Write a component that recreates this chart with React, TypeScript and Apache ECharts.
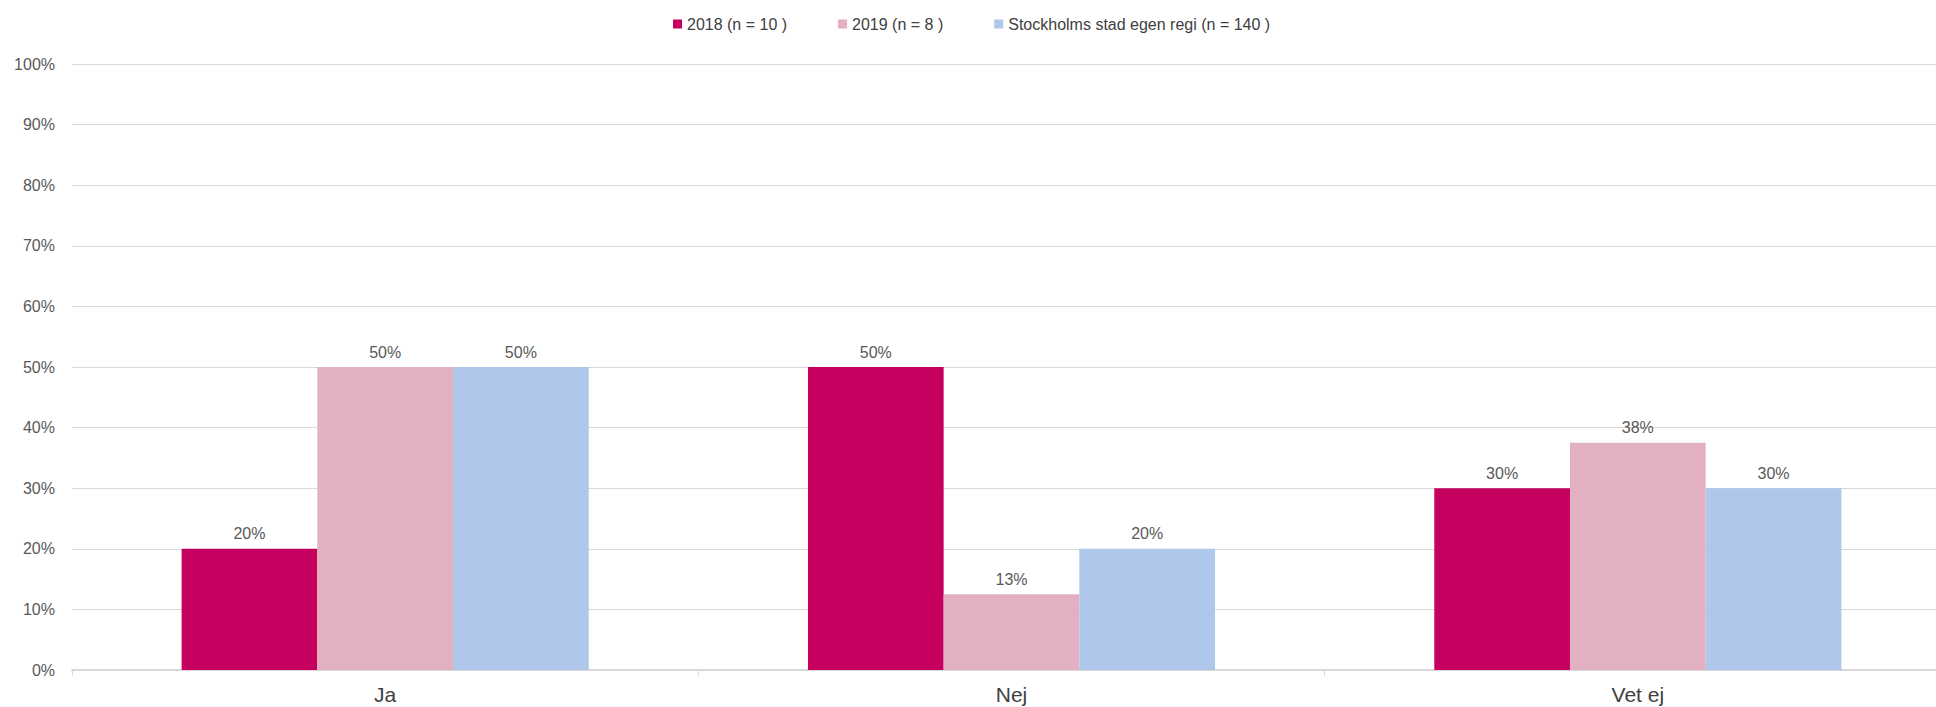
import React, { useEffect, useRef } from "react";
import * as echarts from "echarts";

const categories = ["Ja", "Nej", "Vet ej"];
const seriesNames = ["2018 (n = 10 )", "2019 (n = 8 )", "Stockholms stad egen regi (n = 140 )"];
const values2018 = [20, 50, 30];
const values2019 = [50, 12.5, 37.5];
const valuesStockholm = [50, 20, 30];
const seriesColors = ["#c5005f", "#e3b0c1", "#aec7ea"];

const FONT = "'Liberation Sans', Arial, sans-serif";

export default function App() {
  const ref = useRef<HTMLDivElement>(null);
  useEffect(() => {
    document.body.style.margin = "0";
    if (!ref.current) return;
    const chart = echarts.init(ref.current, null, { renderer: "svg" });
    const data = [values2018, values2019, valuesStockholm];
    chart.setOption({
      animation: false,
      backgroundColor: "#ffffff",
      legend: {
        left: 668,
        top: 11,
        icon: "rect",
        itemWidth: 9,
        itemHeight: 9,
        itemGap: 51,
        textStyle: { fontFamily: FONT, fontSize: 16, color: "#404040" },
        data: seriesNames,
      },
      grid: {
        left: 72,
        top: 64,
        width: 1879,
        height: 606,
        outerBoundsMode: "none",
      },
      xAxis: {
        type: "category",
        data: categories,
        boundaryGap: true,
        axisLine: { show: true, lineStyle: { color: "#d9d9d9", width: 2 } },
        axisTick: { show: true, interval: 0, length: 6, lineStyle: { color: "#d9d9d9" } },
        axisLabel: { fontFamily: FONT, fontSize: 21, color: "#404040", margin: 14 },
      },
      yAxis: {
        type: "value",
        min: 0,
        max: 100,
        interval: 10,
        axisLine: { show: false },
        axisTick: { show: false },
        axisLabel: { formatter: "{value}%", fontFamily: FONT, fontSize: 16, color: "#595959", margin: 17 },
        splitLine: { show: true, lineStyle: { color: "#d9d9d9", width: 1 } },
      },
      series: seriesNames.map((name, i) => ({
        name,
        type: "bar",
        data: data[i],
        barGap: "0%",
        barCategoryGap: "35%",
        itemStyle: { color: seriesColors[i] },
        label: {
          show: true,
          position: "top",
          distance: 7,
          fontFamily: FONT,
          fontSize: 16,
          color: "#595959",
          formatter: (p: any) => Math.round(p.value) + "%",
        },
      })),
    });
    return () => chart.dispose();
  }, []);
  return <div ref={ref} style={{ width: 1936, height: 707 }} />;
}
